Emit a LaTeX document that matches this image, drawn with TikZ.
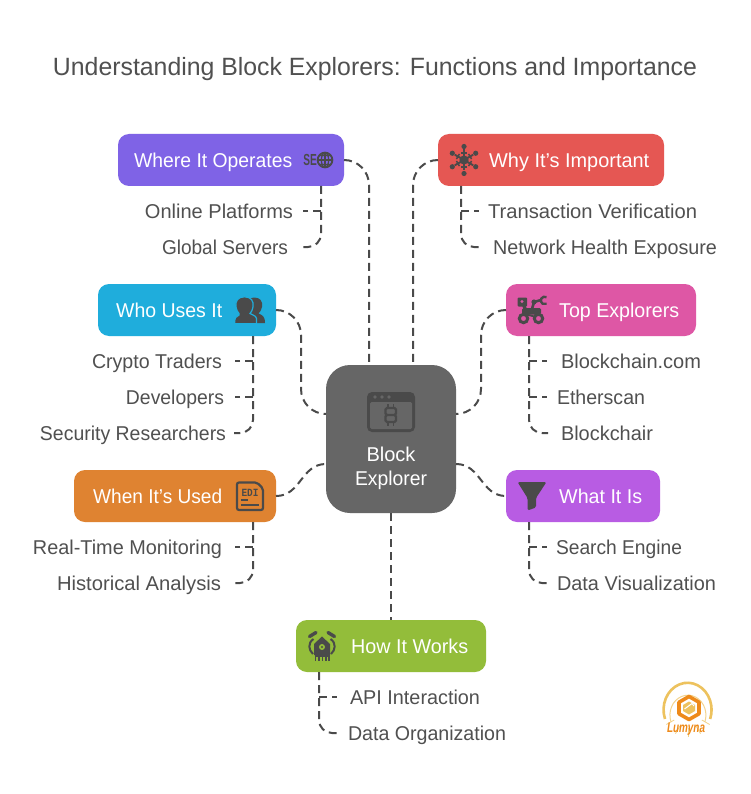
\documentclass[tikz,border=0pt]{standalone}
\usepackage{graphicx}
\usepackage{fontspec}
\setmainfont{Liberation Sans}[Ligatures=ResetAll]
\setmonofont{Liberation Mono}
\definecolor{ink}{HTML}{4A4A4A}
\definecolor{txt}{HTML}{505050}
\definecolor{cWhere}{HTML}{7F63E6}
\definecolor{cWhy}{HTML}{E55753}
\definecolor{cWho}{HTML}{1FADDC}
\definecolor{cTop}{HTML}{DE57A5}
\definecolor{cWhen}{HTML}{DF8331}
\definecolor{cWhat}{HTML}{B85CE3}
\definecolor{cHow}{HTML}{93BD3A}
\definecolor{cHub}{HTML}{666666}
\definecolor{gold}{HTML}{EDC25E}
\definecolor{lorange}{HTML}{EE8A1A}
\newcommand{\fitw}[2]{\resizebox{#1pt}{\height}{#2}}
\tikzset{
  box/.style={rounded corners=11pt,inner sep=0pt,outer sep=0pt,minimum height=52pt},
  head/.style={text=white,inner sep=0pt,text height=14.5pt,text depth=0pt,font=\fontsize{20}{24}\selectfont},
  leaf/.style={text=txt,inner ysep=0pt,outer sep=0pt,text height=14.5pt,text depth=0pt,font=\fontsize{20}{24}\selectfont},
  link/.style={draw=ink,line width=2pt,dash pattern=on 8pt off 5pt},
  ic/.style={fill=ink,draw=none},
  ics/.style={draw=ink,fill=none,line width=1.8pt}
}
\newcommand{\lastleaf}[2]{\draw[link,rounded corners=13pt] (#1) -- (#1 |- #2.east) -- (#2.east);}
\newcommand{\lastleafR}[2]{\draw[link,rounded corners=13pt] (#1) -- (#1 |- #2.west) -- (#2.west);}
\newcommand{\midleaf}[2]{\draw[link] (#1 |- #2.east) -- (#2.east);}
\newcommand{\midleafR}[2]{\draw[link] (#1 |- #2.west) -- (#2.west);}
\begin{document}
\begin{tikzpicture}[x=1pt,y=-1pt]
\useasboundingbox (0,0) rectangle (750,794);
\fill[white] (0,0) rectangle (750,794);

\node[text=txt,inner sep=0pt,text height=18pt,text depth=0pt,font=\fontsize{25}{30}\selectfont] (title) at (375,67) {\fitw{644}{Understanding Block Explorers: Functions and Importance}};

% boxes
\node[box,fill=cHub,rounded corners=24pt,minimum width=130pt,minimum height=148pt] (hub) at (391,439) {};
\node[box,fill=cWhere,minimum width=226pt] (where) at (231,160) {};
\node[box,fill=cWhy,minimum width=226pt] (why) at (551,160) {};
\node[box,fill=cWho,minimum width=178pt] (who) at (187,310) {};
\node[box,fill=cTop,minimum width=190pt] (top) at (601,310) {};
\node[box,fill=cWhen,minimum width=202pt] (when) at (175,496) {};
\node[box,fill=cWhat,minimum width=154pt] (what) at (583,496) {};
\node[box,fill=cHow,minimum width=190pt] (how) at (391,646) {};

% heading labels
\node[head,anchor=west] (lwhere) at (134,160) {\fitw{158}{Where It Operates}};
\node[head,anchor=west] (lwhy) at (489,160) {\fitw{160}{Why It's Important}};
\node[head,anchor=west] (lwho) at (116,310) {\fitw{106}{Who Uses It}};
\node[head,anchor=west] (ltop) at (559,310) {\fitw{120}{Top Explorers}};
\node[head,anchor=west] (lwhen) at (93,496) {\fitw{129}{When It's Used}};
\node[head,anchor=west] (lwhat) at (559,496) {\fitw{83}{What It Is}};
\node[head,anchor=west] (lhow) at (351,646) {\fitw{117}{How It Works}};
\node[head] (lb1) at (391,454) {\fitw{49}{Block}};
\node[head] (lb2) at (391,478) {\fitw{72}{Explorer}};

% leaves
\node[leaf,anchor=east,inner xsep=10pt] (a1) at (303,211) {\fitw{148}{Online Platforms}};
\node[leaf,anchor=east,inner xsep=13pt] (a2) at (301,247) {\fitw{126}{Global Servers}};
\node[leaf,anchor=west,inner xsep=9pt] (b1) at (479,211) {\fitw{209}{Transaction Verification}};
\node[leaf,anchor=west,inner xsep=13pt] (b2) at (480,247) {\fitw{224}{Network Health Exposure}};
\node[leaf,anchor=east,inner xsep=13pt] (c1) at (235,361) {\fitw{130}{Crypto Traders}};
\node[leaf,anchor=east,inner xsep=11pt] (c2) at (235,397) {\fitw{98}{Developers}};
\node[leaf,anchor=east,inner xsep=8pt] (c3) at (234,433) {\fitw{186}{Security Researchers}};
\node[leaf,anchor=west,inner xsep=14pt] (d1) at (547,361) {\fitw{140}{Blockchain.com}};
\node[leaf,anchor=west,inner xsep=10pt] (d2) at (547,397) {\fitw{88}{Etherscan}};
\node[leaf,anchor=west,inner xsep=13pt] (d3) at (548,433) {\fitw{92}{Blockchair}};
\node[leaf,anchor=east,inner xsep=13pt] (e1) at (235,547) {\fitw{189}{Real-Time Monitoring}};
\node[leaf,anchor=east,inner xsep=13pt] (e2) at (234,583) {\fitw{164}{Historical Analysis}};
\node[leaf,anchor=west,inner xsep=9pt] (f1) at (547,547) {\fitw{126}{Search Engine}};
\node[leaf,anchor=west,inner xsep=9pt] (f2) at (548,583) {\fitw{159}{Data Visualization}};
\node[leaf,anchor=west,inner xsep=13pt] (g1) at (337,697) {\fitw{130}{API Interaction}};
\node[leaf,anchor=west,inner xsep=10pt] (g2) at (338,733) {\fitw{158}{Data Organization}};

% trunks of the boxes
\coordinate (ta) at ([xshift=-23pt]where.south east);
\coordinate (tb) at ([xshift=23pt]why.south west);
\coordinate (tc) at ([xshift=-23pt]who.south east);
\coordinate (td) at ([xshift=23pt]top.south west);
\coordinate (te) at ([xshift=-23pt]when.south east);
\coordinate (tf) at ([xshift=23pt]what.south west);
\coordinate (tg) at ([xshift=23pt]how.south west);

\lastleaf{ta}{a2} \midleaf{ta}{a1}
\lastleafR{tb}{b2} \midleafR{tb}{b1}
\lastleaf{tc}{c3} \midleaf{tc}{c1} \midleaf{tc}{c2}
\lastleafR{td}{d3} \midleafR{td}{d1} \midleafR{td}{d2}
\lastleaf{te}{e2} \midleaf{te}{e1}
\lastleafR{tf}{f2} \midleafR{tf}{f1}
\lastleafR{tg}{g2} \midleafR{tg}{g1}

% connectors to hub
\coordinate (h1) at ([xshift=-22pt]hub.north);
\coordinate (h2) at ([xshift=22pt]hub.north);
\coordinate (h3) at ([yshift=25pt]hub.west);
\coordinate (h4) at ([yshift=25pt]hub.east);
\coordinate (h6) at ([yshift=-25pt]hub.west);
\coordinate (h7) at ([yshift=-25pt]hub.east);
\coordinate (m3) at ([xshift=25pt]who.east);
\coordinate (m4) at ([xshift=-25pt]top.west);
\draw[link,rounded corners=25pt] (where.east) -- (h1 |- where.east) -- (h1);
\draw[link,rounded corners=25pt] (why.west) -- (h2 |- why.west) -- (h2);
\draw[link,rounded corners=25pt] (who.east) -- (m3) -- (m3 |- h3) -- (h3);
\draw[link,rounded corners=25pt] (top.west) -- (m4) -- (m4 |- h4) -- (h4);
\draw[link] (when.east) .. controls ([xshift=25pt]when.east) and ([xshift=-25pt]h6) .. (h6);
\draw[link] (h7) .. controls ([xshift=25pt]h7) and ([xshift=-25pt]what.west) .. (what.west);
\draw[link] (hub.south) -- (how.north);

% icon: SEO globe
\node[text=ink,inner sep=0pt,font=\bfseries\fontsize{16}{16}\selectfont] (seo) at (310,160) {\resizebox{13.5pt}{\height}{SE}};
\draw[ics] (325,160) circle (7.4pt) (325,152.6) -- (325,167.4) (317.6,160) -- (332.4,160);
\draw[draw=ink,line width=1.2pt] (325,160) ellipse (3.6pt and 7.4pt) (319,155.6) -- (331,155.6) (319,164.4) -- (331,164.4);

% icon: network star
\foreach \a in {30,90,150,210,270,330} {
  \draw[ink,line width=1.9pt] (464,160) -- ++(\a:-10.5pt);
  \fill[ink] (464,160) ++(\a:-13.5pt) circle (2.6pt);
  \draw[ink,line width=1.5pt] (464,160) ++(\a:-7pt) ++(\a+90:-3pt) -- ++(\a+90:6pt);
}
\fill[ink] (464,160) circle (4.6pt);

% icon: people
\fill[ic] (254,297.5) .. controls (260,297.5) and (263,301) .. (262,307) .. controls (261.5,310) and (260,312) .. (258.5,313.5) .. controls (262,315) and (265,316) .. (265,323) -- (243,323) -- (243,300) -- cycle;
\draw[cWho,line width=1.2pt,fill=ink] (244.5,296.8) .. controls (251,296.8) and (254,301) .. (253,307) .. controls (252.5,310) and (251.5,312) .. (250,313.5) .. controls (252,315.5) and (256,315) .. (256.5,318.5) .. controls (256.5,320) and (256.5,322) .. (256.5,323.6) -- (234.6,323.6) .. controls (234.4,318) and (236,316) .. (239,315) -- (239,313.5) .. controls (237.5,312) and (236.5,310) .. (236,307) .. controls (235,301) and (238,296.8) .. (244.5,296.8) -- cycle;

% icon: rover
\fill[ic,rounded corners=1pt] (517.5,297.5) rectangle (527,306.5);
\fill[cTop] (522,301.5) circle (1.6pt);
\fill[ic] (522,305) -- (525.5,305) -- (527.5,311) -- (524,311) -- cycle;
\fill[ic,rounded corners=1.5pt] (522,308) -- (541,308) -- (541,314.5) -- (522,314.5) -- cycle;
\draw[ink,line width=2.6pt] (532,309) -- (534,302) -- (541,300);
\draw[ink,line width=2.4pt] (546.5,297.2) arc (60:300:3.8pt);
\fill[ink] (534,302) circle (2.6pt);
\draw[ink,line width=3pt,fill=none] (523.5,318.5) circle (4.2pt) (538.5,318.5) circle (4.2pt);
\draw[ink,line width=1.8pt] (527,314.5) -- (536,317);

% icon: EDI document
\draw[ink,line width=2.2pt,rounded corners=2pt] (237,482.5) -- (257,482.5) -- (263,488.5) -- (263,510) -- (237,510) -- cycle;
\node[text=ink,inner sep=0pt,font=\ttfamily\bfseries\fontsize{11}{11}\selectfont] (edi) at (250,492.5) {\resizebox{17pt}{\height}{EDI}};
\draw[ink,line width=1.8pt] (241,500) -- (248,500) (241,505) -- (259,505);

% icon: funnel
\fill[ic,rounded corners=1.5pt] (517.5,482) -- (546.5,482) -- (536,498) -- (536,507.5) -- (527.5,510.5) -- (527.5,498) -- cycle;

% icon: how it works robot
\fill[ic] (314,644) -- (322,636.5) -- (330,644) -- (330,655) -- (314,655) -- cycle;
\fill[ic] (314.5,655) rectangle (329.5,657);
\foreach \i in {315.5,319,322.5,326,329} \draw[ink,line width=1.4pt] (\i,656) -- (\i,661);
\fill[cHow] (322,647) circle (3pt);
\fill[ink] (322,647) circle (1.2pt);
\draw[ink,line width=3.4pt,line cap=round] (309.5,636.5) -- (316,632.5) (328,632.5) -- (334.5,636.5);
\draw[ink,line width=2pt] (313.5,639) .. controls (307.5,643) and (308.5,650) .. (313,654);
\draw[ink,line width=2pt] (330.5,639) .. controls (336.5,643) and (335.5,650) .. (331,654);

% icon: browser with coin
\fill[ic,rounded corners=5pt] (367,392) rectangle (415,432);
\fill[cHub,rounded corners=1.5pt] (370,402) rectangle (412,429);
\fill[cHub] (375,397) circle (1.8pt) (382,397) circle (1.8pt) (389,397) circle (1.8pt);
\draw[ink,line width=2.4pt,rounded corners=1.5pt] (385.5,408) rectangle (396,415) (385.5,415) rectangle (396,422);
\draw[ink,line width=1.8pt] (388,404) -- (388,408) (393.5,404) -- (393.5,408) (388,422) -- (388,425.5) (393.5,422) -- (393.5,425.5);

% logo
\draw[gold,line width=2.6pt] (665,719) arc (200:-20:24pt and 27pt);
\draw[gold!70,line width=1pt] (671,722) arc (200:-20:18pt and 20pt);
\foreach \a in {-60,-30,0,30,60} \draw[gold!75,line width=.8pt] (688,712) ++(\a-90:16pt) -- ++(\a-90:9pt);
\draw[lorange,line width=3.6pt,line join=round] (689,696.5) -- (699,702.2) -- (699,713.8) -- (689,719.5) -- (679,713.8) -- (679,702.2) -- cycle;
\fill[gold] (689,701.5) -- (695,705) -- (695,711) -- (689,714.5) -- (683,711) -- (683,705) -- cycle;
\draw[white,line width=1pt] (684.5,709) -- (692,703.5) -- (694,706);
\node[text=lorange,inner sep=0pt,font=\bfseries\itshape\fontsize{14}{14}\selectfont] (logo) at (686,729.5) {\resizebox{38pt}{\height}{Lumyna}};
\end{tikzpicture}
\end{document}
